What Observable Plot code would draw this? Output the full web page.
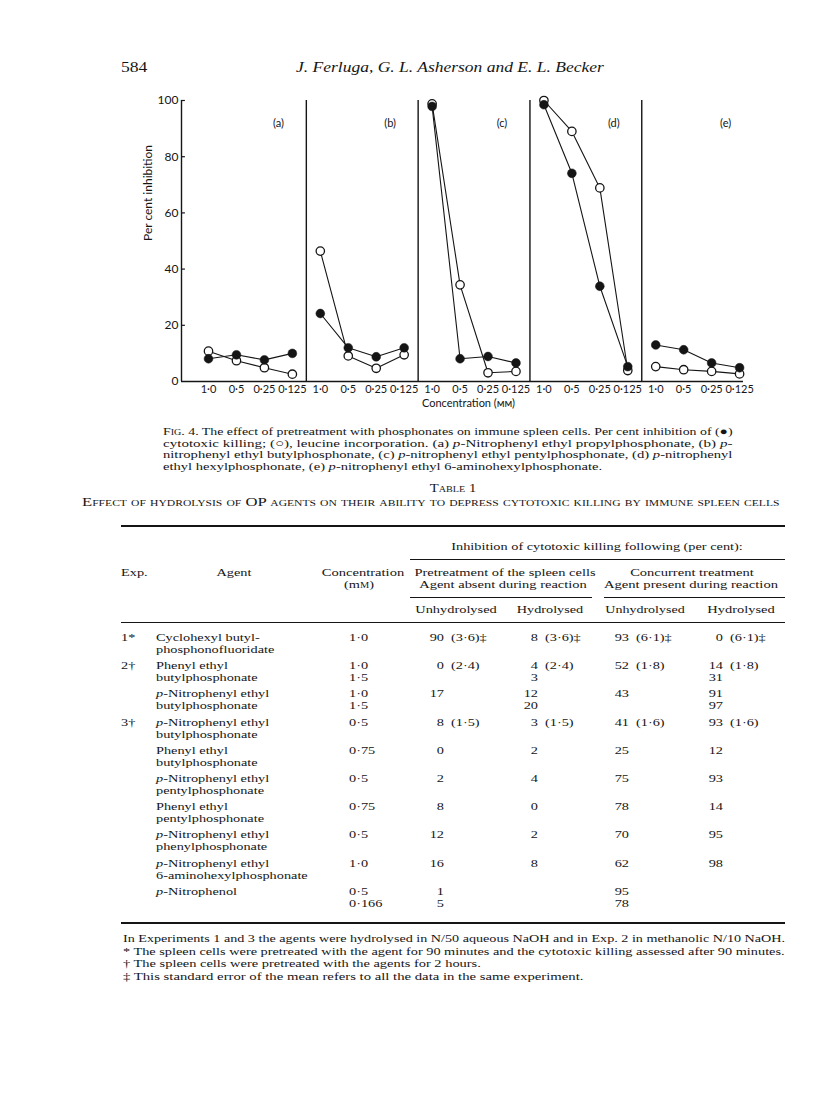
<!DOCTYPE html>
<html>
<head>
<meta charset="utf-8">
<script src="https://cdn.jsdelivr.net/npm/d3@7"></script>
<script src="https://cdn.jsdelivr.net/npm/@observablehq/plot@0.6"></script>
<style>
  html, body { margin: 0; padding: 0; background: #fff; }
  #page { position: relative; width: 816px; height: 1111px; overflow: hidden; background: #fff;
          font-family: "Liberation Serif", "Times New Roman", serif; color: #151515; }
  .t { position: absolute; white-space: nowrap; line-height: 1; }
  .sc { font-variant: small-caps; }
  .rule { position: absolute; background: #151515; }
  #chart { position: absolute; left: 0; top: 85px; }
</style>
</head>
<body>
<div id="page"><div id="chart"></div></div>
<script>
// ---------- chart data ----------
const concLabels = ["1·0", "0·5", "0·25", "0·125"];
const panels = ["(a)", "(b)", "(c)", "(d)", "(e)"];
// (●) per cent inhibition of cytotoxic killing
const cytotoxicKilling = [
  [8.1, 9.5, 7.7, 10],
  [24.2, 12, 8.8, 12],
  [97.9, 8.1, 8.9, 6.6],
  [98.5, 74.1, 33.9, 5.3],
  [13, 11.3, 6.6, 4.9]
];
// (○) per cent inhibition of leucine incorporation
const leucineIncorporation = [
  [10.8, 7.4, 4.9, 2.6],
  [46.4, 9.1, 4.7, 9.5],
  [98.8, 34.4, 3.1, 3.6],
  [100, 89, 68.9, 3.9],
  [5.3, 4.2, 3.6, 2.7]
];
const yTicks = [0, 20, 40, 60, 80, 100];

// ---------- table data ----------
const expLabels = ["1*", "2†", "", "3†", "", "", "", "", "", ""];
const agents = [
  ["Cyclohexyl butyl-", "phosphonofluoridate"],
  ["Phenyl ethyl", "butylphosphonate"],
  ["<i>p</i>-Nitrophenyl ethyl", "butylphosphonate"],
  ["<i>p</i>-Nitrophenyl ethyl", "butylphosphonate"],
  ["Phenyl ethyl", "butylphosphonate"],
  ["<i>p</i>-Nitrophenyl ethyl", "pentylphosphonate"],
  ["Phenyl ethyl", "pentylphosphonate"],
  ["<i>p</i>-Nitrophenyl ethyl", "phenylphosphonate"],
  ["<i>p</i>-Nitrophenyl ethyl", "6-aminohexylphosphonate"],
  ["<i>p</i>-Nitrophenol", ""]
];
const concentrations = [["1·0"], ["1·0", "1·5"], ["1·0", "1·5"], ["0·5"], ["0·75"], ["0·5"], ["0·75"], ["0·5"], ["1·0"], ["0·5", "0·166"]];
const pretreatUnhydrolysed = [["90 (3·6)‡"], ["0 (2·4)"], ["17"], ["8 (1·5)"], ["0"], ["2"], ["8"], ["12"], ["16"], ["1", "5"]];
const pretreatHydrolysed = [["8 (3·6)‡"], ["4 (2·4)", "3"], ["12", "20"], ["3 (1·5)"], ["2"], ["4"], ["0"], ["2"], ["8"], []];
const concurrentUnhydrolysed = [["93 (6·1)‡"], ["52 (1·8)"], ["43"], ["41 (1·6)"], ["25"], ["75"], ["78"], ["70"], ["62"], ["95", "78"]];
const concurrentHydrolysed = [["0 (6·1)‡"], ["14 (1·8)", "31"], ["91", "97"], ["93 (1·6)"], ["12"], ["93"], ["14"], ["95"], ["98"], []];

const captionLines = [
  '<span class="sc">Fig</span>. 4. The effect of pretreatment with phosphonates on immune spleen cells. Per cent inhibition of (●)',
  'cytotoxic killing; (○), leucine incorporation. (a) <i>p</i>-Nitrophenyl ethyl propylphosphonate, (b) <i>p</i>-',
  'nitrophenyl ethyl butylphosphonate, (c) <i>p</i>-nitrophenyl ethyl pentylphosphonate, (d) <i>p</i>-nitrophenyl',
  'ethyl hexylphosphonate, (e) <i>p</i>-nitrophenyl ethyl 6-aminohexylphosphonate.'
];
const footnotes = [
  'In Experiments 1 and 3 the agents were hydrolysed in N/50 aqueous NaOH and in Exp. 2 in methanolic N/10 NaOH.',
  '* The spleen cells were pretreated with the agent for 90 minutes and the cytotoxic killing assessed after 90 minutes.',
  '† The spleen cells were pretreated with the agents for 2 hours.',
  '‡ This standard error of the mean refers to all the data in the same experiment.'
];

// ---------- chart ----------
const points = panels.flatMap((p, pi) => concLabels.map((c, ci) => ({
  panel: p, conc: c, pos: pi * concLabels.length + ci,
  killing: cytotoxicKilling[pi][ci], leucine: leucineIncorporation[pi][ci]
})));
const xDomain = [-0.966, 19.14];
const ink = "#151515";

const chart = Plot.plot({
  width: 816, height: 330,
  marginTop: 15, marginBottom: 34, marginLeft: 181, marginRight: 73,
  x: {domain: xDomain, axis: null},
  y: {domain: [0, 100], axis: null},
  style: {fontFamily: "Lato, 'DejaVu Sans', sans-serif", color: ink, background: "white", overflow: "visible"},
  marks: [
    Plot.ruleY([0], {stroke: ink, strokeWidth: 1.4}),
    Plot.ruleX([xDomain[0]], {y1: 0, y2: 100, stroke: ink, strokeWidth: 1.4}),
    Plot.ruleX(panels.slice(1), {x: (d, i) => (i + 1) * concLabels.length - 0.5, y1: 0, y2: 100, stroke: ink, strokeWidth: 1.4}),
    Plot.ruleY(yTicks.slice(1), {x1: xDomain[0], x2: xDomain[0] + 0.14, stroke: ink, strokeWidth: 1.2}),
    Plot.axisY({ticks: yTicks, tickSize: 0, tickPadding: 3, fontSize: 12, label: null}),
    Plot.axisX({ticks: points.map(d => d.pos), tickFormat: i => concLabels[i % concLabels.length],
                tickSize: 0, tickPadding: 4, fontSize: 11, label: null}),
    Plot.text(["Per cent inhibition"], {frameAnchor: "left", rotate: -90, dx: -33, fontSize: 12}),
    Plot.text(["Concentration (ᴍᴍ)"], {frameAnchor: "bottom", dy: 25, dx: 6, fontSize: 11}),
    Plot.text(panels, {x: (d, i) => i * concLabels.length + 2.5, frameAnchor: "top", dy: 19, fontSize: 11}),
    Plot.line(points, {x: "pos", y: "leucine", z: "panel", stroke: ink, strokeWidth: 1.1}),
    Plot.line(points, {x: "pos", y: "killing", z: "panel", stroke: ink, strokeWidth: 1.1}),
    Plot.dot(points, {x: "pos", y: "leucine", r: 4.2, fill: "white", stroke: ink, strokeWidth: 1.3}),
    Plot.dot(points, {x: "pos", y: "killing", r: 4.4, fill: ink, stroke: ink, strokeWidth: 0.5})
  ]
});
document.getElementById("chart").append(chart);

// ---------- text layout helpers ----------
const page = document.getElementById("page");
const STRETCH = 1.3;
const BODY = 11;
function place(html, x, y, {anchor = "start", size = BODY, width = null, cls = "", italic = false} = {}) {
  const el = document.createElement("div");
  el.className = "t " + cls;
  el.innerHTML = html;
  el.style.fontSize = size + "px";
  if (italic) el.style.fontStyle = "italic";
  el.style.left = x + "px";
  el.style.top = y + "px";
  page.append(el);
  const w = el.offsetWidth;
  const s = width ? width / w : STRETCH;
  const origin = anchor === "start" ? "left" : anchor === "end" ? "right" : "center";
  const tx = anchor === "start" ? "0" : anchor === "end" ? "-100%" : "-50%";
  el.style.transformOrigin = origin + " center";
  el.style.transform = `translate(${tx}, -50%) scaleX(${s})`;
  return el;
}
function hrule(x1, x2, y, t = 1) {
  const r = document.createElement("div");
  r.className = "rule";
  r.style.left = x1 + "px"; r.style.width = (x2 - x1) + "px";
  r.style.top = (y - t / 2) + "px"; r.style.height = t + "px";
  page.append(r);
}
function cell(value, anchorX, y) {
  const [num, ...rest] = value.split(" ");
  place(num, anchorX, y, {anchor: "end"});
  if (rest.length) place(rest.join(" "), anchorX + 7, y);
}

// running head
place("584", 121, 67, {size: 15, width: 27});
place("J. Ferluga, G. L. Asherson and E. L. Becker", 296, 67, {size: 15, italic: true, width: 308});

// caption
const capY = [431, 442.5, 454, 465.5];
captionLines.forEach((l, i) => place(l, 163, capY[i], {width: i < 3 ? 569 : 439}));

// table title
place("Table 1", 453, 489, {anchor: "middle", size: 11.5, cls: "sc", width: 47});
place("Effect of hydrolysis of OP agents on their ability to depress cytotoxic killing by immune spleen cells",
      82, 503, {size: 11.5, cls: "sc", width: 698});

// table header
const L = 121, R = 785;
hrule(L, R, 526, 2);
place("Inhibition of cytotoxic killing following (per cent):", 597, 546, {anchor: "middle"});
hrule(410, R, 559, 1);
place("Exp.", 121, 572);
place("Agent", 234, 572, {anchor: "middle"});
place("Concentration", 363, 572, {anchor: "middle", width: 82});
place("(m<span class='sc'>m</span>)", 359, 584, {anchor: "middle"});
place("Pretreatment of the spleen cells", 505, 572, {anchor: "middle", width: 181});
place("Agent absent during reaction", 503, 584, {anchor: "middle", width: 167});
place("Concurrent treatment", 692, 572, {anchor: "middle", width: 124});
place("Agent present during reaction", 691, 584, {anchor: "middle", width: 174});
hrule(410, 592, 597, 1);
hrule(604, R, 597, 1);
place("Unhydrolysed", 456, 609, {anchor: "middle", width: 81});
place("Hydrolysed", 550, 609, {anchor: "middle", width: 66});
place("Unhydrolysed", 645, 609, {anchor: "middle", width: 79});
place("Hydrolysed", 741, 609, {anchor: "middle", width: 67});
hrule(L, R, 622, 1);

// table body
const rowY0 = 637, rowPitch = 28.2, linePitch = 12;
agents.forEach((lines, i) => {
  const y = rowY0 + i * rowPitch;
  if (expLabels[i]) place(expLabels[i], 121, y);
  lines.forEach((l, j) => { if (l) place(l, 156, y + j * linePitch); });
  concentrations[i].forEach((c, j) => place(c, 349, y + j * linePitch));
  pretreatUnhydrolysed[i].forEach((v, j) => cell(v, 444, y + j * linePitch));
  pretreatHydrolysed[i].forEach((v, j) => cell(v, 538, y + j * linePitch));
  concurrentUnhydrolysed[i].forEach((v, j) => cell(v, 629, y + j * linePitch));
  concurrentHydrolysed[i].forEach((v, j) => cell(v, 723, y + j * linePitch));
});
hrule(L, R, 923, 2);

// footnotes
const fnY = [938, 950.5, 963, 975.5];
const fnW = [662, 662, 358, 460];
footnotes.forEach((f, i) => place(f, 123, fnY[i], {width: fnW[i]}));
</script>
</body>
</html>
